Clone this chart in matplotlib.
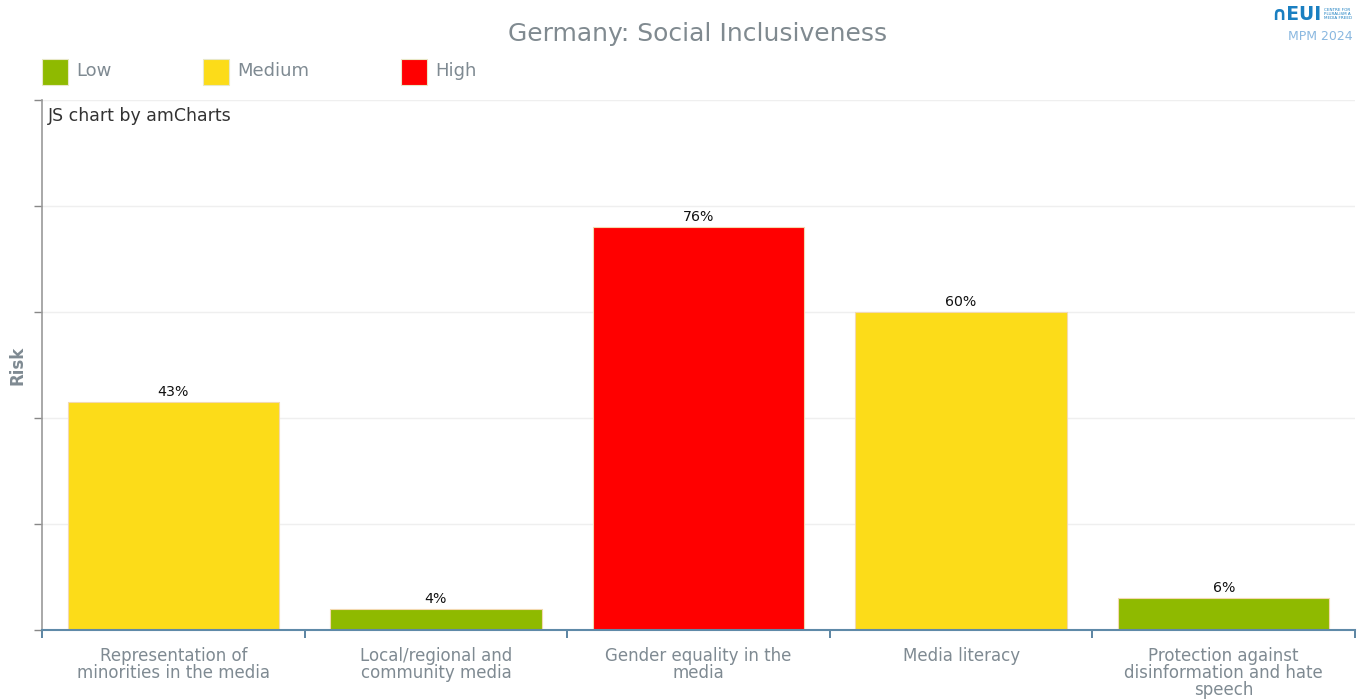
import matplotlib
matplotlib.use("Agg")
import matplotlib.pyplot as plt
from matplotlib.patches import Rectangle
import numpy as np

plt.rcParams['font.family'] = ['DejaVu Sans']

categories = ["Representation of\nminorities in the media",
              "Local/regional and\ncommunity media",
              "Gender equality in the\nmedia",
              "Media literacy",
              "Protection against\ndisinformation and hate\nspeech"]
values = [43, 4, 76, 60, 6]
risk = ["Medium", "Low", "High", "Medium", "Low"]
legend_labels = ["Low", "Medium", "High"]
colors = {"Low": "#8fba00", "Medium": "#fcdc19", "High": "#ff0000"}

W, H = 1358, 699
fig = plt.figure(figsize=(W/100, H/100), dpi=100)
ax = fig.add_axes([42/W, 1-630/H, (1355-42)/W, (630-100)/H])

x = np.arange(len(categories))
ax.bar(x, values, width=0.805, color=[colors[r] for r in risk],
       edgecolor="#f3d9b0", linewidth=0.8, zorder=2)
for xi, v in zip(x, values):
    ax.text(xi, v + 0.6, f"{v}%", ha="center", va="bottom", fontsize=10.2, color="#111111")

ax.set_xlim(-0.5, len(categories) - 0.5)
ax.set_ylim(0, 100)
ax.set_yticks(np.arange(0, 101, 20))
ax.set_yticklabels([])
ax.grid(axis="y", color="#efefef", linewidth=1, zorder=0)
ax.set_axisbelow(True)

ax.set_xticks(x)
ax.set_xticklabels(categories, fontsize=12, color="#7f8a92", linespacing=0.95, va="top")
ax.tick_params(axis="x", length=0, pad=12)
ax.set_xticks(np.arange(-0.5, len(categories)), minor=True)
ax.tick_params(axis="x", which="minor", length=6, width=1.2, color="#3f6f92", direction="out")
ax.tick_params(axis="y", length=6, width=1, color="#888888", direction="out")

for s in ["top", "right"]:
    ax.spines[s].set_visible(False)
ax.spines["left"].set_color("#999999")
ax.spines["left"].set_linewidth(1.2)
ax.spines["bottom"].set_color("#5f8aa8")
ax.spines["bottom"].set_linewidth(1.5)

fig.text(18/W, 1-365/H, "Risk", rotation=90, ha="center", va="center",
         fontsize=12, fontweight="bold", color="#7f8a92")

# amCharts credit
fig.text(48/W, 1-116/H, "JS chart by amCharts", fontsize=12.5, color="#333333",
         ha="left", va="center")

# title
fig.text(698/W, 1-34/H, "Germany: Social Inclusiveness", ha="center", va="center",
         fontsize=18, color="#808a90")

# legend
leg_x = [42, 203, 401]
for lbl, lx in zip(legend_labels, leg_x):
    fig.patches.append(Rectangle((lx/W, 1-85/H), 26/W, 26/H, transform=fig.transFigure,
                                 facecolor=colors[lbl], edgecolor="#e8e8c8", linewidth=0.8))
    fig.text((lx+34)/W, 1-71/H, lbl, ha="left", va="center", fontsize=13, color="#7f8a92")

# logo
fig.text(1271/W, 1-15/H, "\u2229EUI", ha="left", va="center", fontsize=13.5, fontweight="bold",
         color="#1a7fc1")
fig.text(1324/W, 1-14/H, "CENTRE FOR\nPLURALISM A\nMEDIA FREED", ha="left", va="center",
         fontsize=3.0, color="#1a7fc1", linespacing=1.0)
fig.text(1288/W, 1-37/H, "MPM 2024", ha="left", va="center", fontsize=9,
         color="#8ab8e0")

fig.savefig("out.png", dpi=100)
